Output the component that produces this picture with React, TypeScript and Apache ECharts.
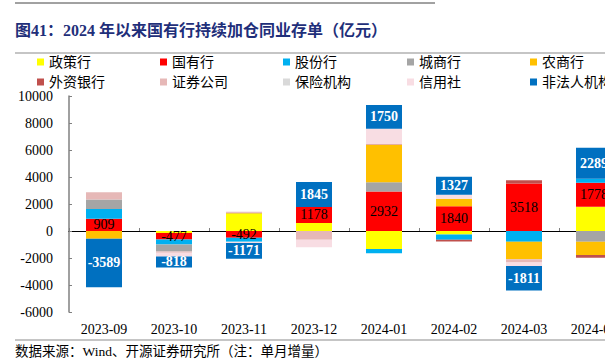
import React, { useEffect, useRef } from 'react';
import * as echarts from 'echarts';

const categories = ['2023-09', '2023-10', '2023-11', '2023-12', '2024-01', '2024-02', '2024-03', '2024-04'];

const zhengce = [0, -150, 1310, 600, -1330, -250, 0, 1800];
const guoyou = [909, -477, -492, 1178, 2932, 1840, 3518, 1778];
const gufen = [720, -370, -300, 0, -320, -400, -790, 300];
const chengshang = [700, -520, 0, 0, 670, 0, 0, -790];
const nongshang = [-570, 0, 0, 0, 2790, 550, -1300, -990];
const waizi = [0, 0, 40, 0, 30, -120, 250, -200];
const zhengquan = [540, -100, 80, -650, 0, 0, -250, 0];
const baoxian = [0, 0, 0, 0, 0, 0, 0, 0];
const xinyongshe = [0, -270, -100, -550, 1160, 300, -250, 0];
const feifaren = [-3589, -818, -1171, 1845, 1750, 1327, -1811, 2289];

const seriesNames = ['政策行', '国有行', '股份行', '城商行', '农商行', '外资银行', '证券公司', '保险机构', '信用社', '非法人机构'];
const seriesData = [zhengce, guoyou, gufen, chengshang, nongshang, waizi, zhengquan, baoxian, xinyongshe, feifaren];
const seriesColors = ['#FFFF00', '#FF0000', '#00B0F0', '#A5A5A5', '#FFC000', '#C0504D', '#E6B8B7', '#D9D9D9', '#F8DDE3', '#0070C0'];

const titleText = '图41：2024 年以来国有行持续加仓同业存单（亿元）';
const sourceText = '数据来源：Wind、开源证券研究所（注：单月增量）';

const FONT = '"Liberation Serif", "Noto Sans CJK SC", serif';

export default function App() {
  const ref = useRef<HTMLDivElement>(null);
  useEffect(() => {
    const chart = echarts.init(ref.current!, null, { renderer: 'svg' });
    const legendCols = [37, 160, 283, 407, 530];
    const legendRows = [55, 75];
    const legends = seriesNames.map((name, i) => ({
      data: [name],
      left: legendCols[i % 5],
      top: legendRows[Math.floor(i / 5)],
      padding: 0,
      itemWidth: 7,
      itemHeight: 7,
      icon: 'rect',
      itemGap: 0,
      textStyle: { fontSize: 14, color: '#000', fontFamily: FONT },
    }));
    const series = seriesNames.map((name, i) => {
      const s: any = {
        name,
        type: 'bar',
        stack: 'total',
        barWidth: 36,
        data: seriesData[i],
        itemStyle: { color: seriesColors[i] },
      };
      if (name === '国有行') {
        s.label = { show: true, position: 'inside', color: '#000', fontSize: 14, fontFamily: FONT };
      }
      if (name === '非法人机构') {
        s.label = { show: true, position: 'inside', color: '#fff', fontSize: 14, fontWeight: 'bold', fontFamily: FONT };
      }
      return s;
    });
    chart.setOption({
      animation: false,
      backgroundColor: '#fff',
      legend: legends,
      grid: { left: 69, top: 96, width: 560, height: 216, containLabel: false },
      xAxis: [
        {
          type: 'category',
          data: categories,
          axisLine: { onZero: true, lineStyle: { color: '#000', width: 1 } },
          axisTick: { show: true, inside: true, length: 3, lineStyle: { color: '#808080' } },
          axisLabel: { show: false },
        },
        {
          type: 'category',
          data: categories,
          position: 'bottom',
          axisLine: { show: false, onZero: false },
          axisTick: { show: false },
          axisLabel: { show: true, margin: 10, fontSize: 14, color: '#000', fontFamily: FONT },
        },
      ],
      yAxis: {
        type: 'value',
        min: -6000,
        max: 10000,
        interval: 2000,
        axisLine: { show: true, lineStyle: { color: '#808080', width: 1.5 } },
        axisTick: { show: true, inside: true, length: 3, lineStyle: { color: '#808080' } },
        splitLine: { show: false },
        axisLabel: { margin: 16, fontSize: 14, color: '#000', fontFamily: FONT, formatter: (v: number) => String(v) },
      },
      series,
      graphic: [
        { type: 'line', shape: { x1: 15, y1: 3, x2: 435, y2: 3 }, style: { stroke: '#444', lineWidth: 1 } },
        {
          type: 'text', x: 15, y: 30,
          style: { text: titleText, fontSize: 16, fontWeight: 'bold', fill: '#1F2F7A', fontFamily: FONT, textVerticalAlign: 'middle' },
        },
        { type: 'line', shape: { x1: 15, y1: 53, x2: 640, y2: 53 }, style: { stroke: '#8c8c8c', lineWidth: 1.2 } },
        { type: 'line', shape: { x1: 15, y1: 340, x2: 640, y2: 340 }, style: { stroke: '#8c8c8c', lineWidth: 1.2 } },
        {
          type: 'text', x: 15, y: 351,
          style: { text: sourceText, fontSize: 13.5, fill: '#000', fontFamily: FONT, textVerticalAlign: 'middle' },
        },
      ],
    });
    return () => chart.dispose();
  }, []);
  return (
    <div style={{ position: 'fixed', left: 0, top: 0, width: 605, height: 360, overflow: 'hidden', background: '#fff' }}>
      <div ref={ref} style={{ width: 640, height: 360 }} />
    </div>
  );
}
